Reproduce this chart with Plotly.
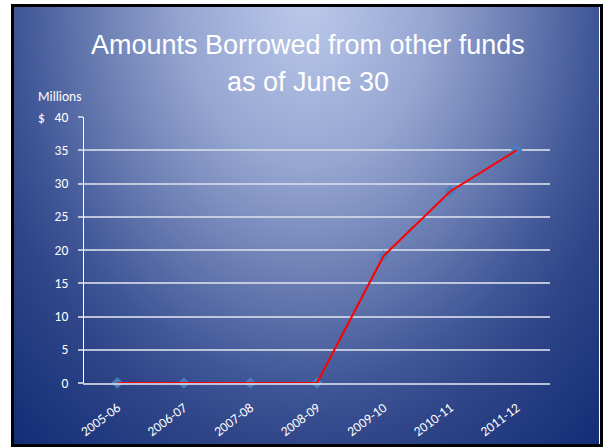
import base64, struct, zlib
import numpy as np
import plotly.graph_objects as go

# ---- data ----
years = ["2005-06", "2006-07", "2007-08", "2008-09", "2009-10", "2010-11", "2011-12"]
borrowed = [0, 0, 0, 0, 19.1, 28.8, 35.0]
y_ticks = [0, 5, 10, 15, 20, 25, 30, 35, 40]
title_lines = ["Amounts Borrowed from other funds", "as of June 30"]

W, H = 604, 447
ML, MR, MT, MB = 84, 54, 117, 64
PW, PH = W - ML - MR, H - MT - MB

def px(x):
    return (x - ML) / PW

def py(y):
    return (H - MB - y) / PH

# ---- background gradient image (styling only) ----
def gradient_png(w, h):
    sx0, sx1, sy0, sy1 = 14, 599, 7, 444
    xs = np.linspace(sx0, sx1, w)
    ys = np.linspace(sy0, sy1, h)
    X, Y = np.meshgrid(xs, ys)
    d = np.sqrt(((X - 307) / 420.0) ** 2 + ((Y - 0) / 560.0) ** 2)
    stops = [0.0, 0.3, 0.5, 0.7, 0.8, 1.05]
    cols = np.array([[188, 202, 234], [150, 166, 210], [108, 127, 180], [62, 85, 150],
                     [48, 70, 136], [20, 46, 120]], float)
    img = np.zeros((h, w, 3))
    for c in range(3):
        img[..., c] = np.interp(d, stops, cols[:, c])
    img = img.clip(0, 255).astype(np.uint8)
    raw = b"".join(b"\x00" + img[r].tobytes() for r in range(h))
    def chunk(t, data):
        c = struct.pack(">I", len(data)) + t + data
        return c + struct.pack(">I", zlib.crc32(t + data) & 0xffffffff)
    png = b"\x89PNG\r\n\x1a\n" + chunk(b"IHDR", struct.pack(">IIBBBBB", w, h, 8, 2, 0, 0, 0)) \
        + chunk(b"IDAT", zlib.compress(raw, 9)) + chunk(b"IEND", b"")
    return "data:image/png;base64," + base64.b64encode(png).decode()

bg = gradient_png(292, 218)

fig = go.Figure()
fig.add_trace(go.Scatter(x=years, y=borrowed, mode="markers", cliponaxis=False,
                         marker=dict(symbol="diamond", size=9, color="#4a7dbf"),
                         hoverinfo="skip", showlegend=False))
fig.add_trace(go.Scatter(x=years, y=borrowed, mode="lines", cliponaxis=False,
                         line=dict(color="#ff0000", width=2), showlegend=False))

y_font = dict(family="Carlito, Calibri, Lato, sans-serif", size=13.5, color="white")
x_font = dict(family="Carlito, Calibri, Lato, sans-serif", size=13.5, color="white")
grid_col = "rgba(210,216,232,0.85)"

fig.update_layout(
    width=W, height=H,
    margin=dict(l=ML, r=MR, t=MT, b=MB, pad=0),
    paper_bgcolor="white",
    plot_bgcolor="rgba(0,0,0,0)",
    xaxis=dict(type="category", range=[-0.5, 6.5], showgrid=False, zeroline=False,
               showline=True, linecolor=grid_col, linewidth=1.5, automargin=False,
               tickangle=-37, tickfont=x_font, ticks="", ticklabelstandoff=10,
               fixedrange=True),
    yaxis=dict(range=[0, 40], tickvals=y_ticks, showgrid=True, gridcolor=grid_col, gridwidth=1.5,
               zeroline=False, showline=True, linecolor="white", linewidth=1, automargin=False,
               ticks="outside", ticklen=5, tickcolor=grid_col, tickwidth=1.5,
               ticklabelstandoff=7, tickfont=y_font, fixedrange=True),
    images=[dict(source=bg, xref="paper", yref="paper", x=px(14), y=py(7),
                 sizex=px(599) - px(14), sizey=py(7) - py(444), sizing="stretch",
                 xanchor="left", yanchor="top", layer="below")],
    shapes=[dict(type="rect", xref="paper", yref="paper",
                 x0=px(12.5), x1=px(601.5), y0=py(5.5), y1=py(445.5),
                 line=dict(color="black", width=3), fillcolor="rgba(0,0,0,0)")],
)

title_font = dict(family="Liberation Sans, Arial, sans-serif", size=27, color="white")
fig.add_annotation(text=title_lines[0], xref="paper", yref="paper", x=px(308), y=py(45),
                   xanchor="center", yanchor="middle", showarrow=False, font=title_font)
fig.add_annotation(text=title_lines[1], xref="paper", yref="paper", x=px(308), y=py(82),
                   xanchor="center", yanchor="middle", showarrow=False, font=title_font)
fig.add_annotation(text="Millions", xref="paper", yref="paper", x=px(36), y=py(97),
                   xanchor="left", yanchor="middle", showarrow=False, font=y_font)
fig.add_annotation(text="$", xref="paper", yref="paper", x=px(36), y=py(117),
                   xanchor="left", yanchor="middle", showarrow=False, font=y_font)

fig.write_html("out.html", config={"displayModeBar": False},
               post_script="document.body.style.margin='0px';")
